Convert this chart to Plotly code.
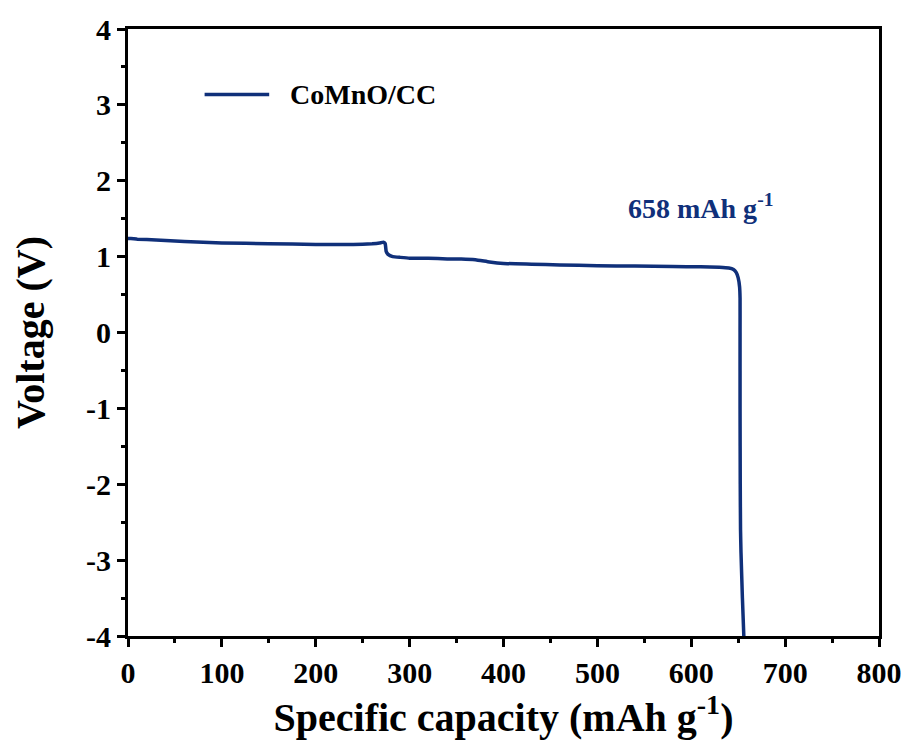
import plotly.graph_objects as go

capacity = [0, 3, 10, 30, 60, 100, 150, 200, 240, 260, 268, 272, 274, 275, 277, 282, 290, 300, 320, 340, 355, 370, 385, 400, 430, 460, 500, 540, 580, 610, 630, 640, 645, 648, 650, 651.5, 652, 652, 652, 652.2, 652.5, 653, 654.5, 656]
voltage = [1.24, 1.24, 1.23, 1.22, 1.20, 1.18, 1.17, 1.16, 1.16, 1.17, 1.18, 1.19, 1.17, 1.07, 1.03, 1.00, 0.99, 0.98, 0.98, 0.97, 0.97, 0.96, 0.93, 0.91, 0.90, 0.89, 0.88, 0.875, 0.87, 0.865, 0.86, 0.85, 0.83, 0.79, 0.72, 0.60, 0.45, 0.0, -1.0, -2.0, -2.6, -2.9, -3.5, -4.0]

x_ticks = [0, 100, 200, 300, 400, 500, 600, 700, 800]
y_ticks = [-4, -3, -2, -1, 0, 1, 2, 3, 4]
y_ticktext = ["-4", "-3", "-2", "-1", "0", "1", "2", "3", "4"]

series_name = "CoMnO/CC"
annotation_text = "658 mAh g<sup>-1</sup>"
x_title = "Specific capacity (mAh g<sup>-1</sup>)"
y_title = "Voltage (V)"

navy = "#10307a"
font_family = "Liberation Serif, Times New Roman, serif"

fig = go.Figure()
fig.add_trace(go.Scatter(
    x=capacity, y=voltage, mode="lines", name=series_name, showlegend=False,
    line=dict(color=navy, width=3.5, shape="spline", smoothing=0.3),
))

axis_common = dict(
    showgrid=False, zeroline=False, showline=True, linecolor="black", linewidth=3,
    mirror=True, ticks="outside", ticklen=8, tickwidth=3, tickcolor="black",
    tickfont=dict(family=font_family, size=30, color="black", weight="bold"),
)

fig.update_xaxes(
    range=[0, 800], tickvals=x_ticks, ticktext=[str(v) for v in x_ticks],
    minor=dict(ticks="outside", ticklen=4, tickwidth=3, dtick=50, tickcolor="black"),
    title=dict(text=x_title, font=dict(family=font_family, size=40, color="black", weight="bold"), standoff=10),
    **axis_common,
)
fig.update_yaxes(
    range=[-4, 4], tickvals=y_ticks, ticktext=y_ticktext,
    minor=dict(ticks="outside", ticklen=4, tickwidth=3, dtick=0.5, tickcolor="black"),
    title=dict(text=y_title, font=dict(family=font_family, size=40, color="black", weight="bold"), standoff=30),
    **axis_common,
)

# legend drawn as sample line + label
fig.add_shape(type="line", xref="paper", yref="paper", x0=0.102, x1=0.188, y0=0.892, y1=0.892,
              line=dict(color=navy, width=3.5))
fig.add_annotation(
    x=0.213, y=0.892, xref="paper", yref="paper", text=series_name, showarrow=False,
    xanchor="left", yanchor="middle",
    font=dict(family=font_family, size=28, color="black", weight="bold"),
)

fig.add_annotation(
    x=530, y=1.66, xref="x", yref="y", text=annotation_text, showarrow=False,
    xanchor="left", yanchor="middle",
    font=dict(family=font_family, size=28, color=navy, weight="bold"),
)

fig.update_layout(
    width=914, height=745,
    margin=dict(l=128, r=26, t=27, b=109),
    paper_bgcolor="white", plot_bgcolor="white",
    showlegend=False,
)

fig.write_html("out.html")
